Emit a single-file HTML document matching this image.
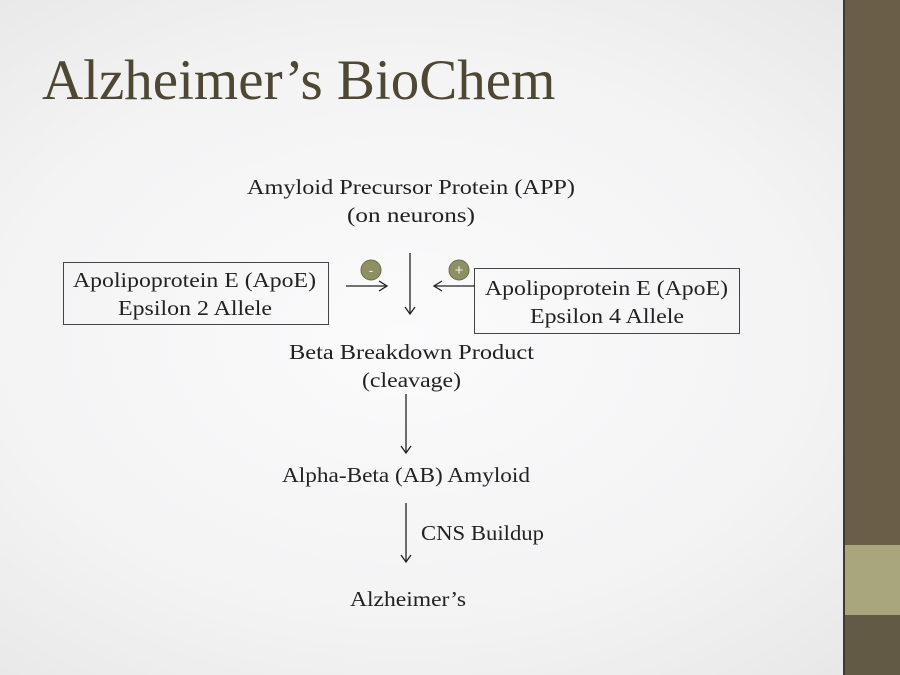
<!DOCTYPE html>
<html><head><meta charset="utf-8"><style>
html,body{margin:0;padding:0}
body{width:900px;height:675px;overflow:hidden;position:relative;background:radial-gradient(ellipse at 45% 50%,#fbfbfc 0%,#f3f3f4 60%,#e6e6e6 100%);font-family:"Liberation Serif",serif}
svg{position:absolute;left:0;top:0}
</style></head><body>
<svg width="900" height="675" viewBox="0 0 900 675">
<rect x="844" y="0" width="56" height="675" fill="#6a5e48"/>
<rect x="843" y="0" width="2" height="675" fill="#3e3a30"/>
<rect x="845" y="545" width="55" height="70" fill="#a9a57c"/>
<rect x="845" y="615" width="55" height="60" fill="#635a46"/>
<text x="42" y="99" font-size="57" fill="#4d4734" font-family="Liberation Serif,serif">Alzheimer’s BioChem</text>
<g font-size="21" fill="#222" font-family="Liberation Serif,serif" lengthAdjust="spacingAndGlyphs">
<text x="247" y="194" textLength="328" lengthAdjust="spacingAndGlyphs">Amyloid Precursor Protein (APP)</text>
<text x="347" y="222" textLength="128" lengthAdjust="spacingAndGlyphs">(on neurons)</text>
<text x="73" y="287" textLength="243" lengthAdjust="spacingAndGlyphs">Apolipoprotein E (ApoE)</text>
<text x="118" y="315" textLength="154" lengthAdjust="spacingAndGlyphs">Epsilon 2 Allele</text>
<text x="485" y="295" textLength="243" lengthAdjust="spacingAndGlyphs">Apolipoprotein E (ApoE)</text>
<text x="530" y="323" textLength="154" lengthAdjust="spacingAndGlyphs">Epsilon 4 Allele</text>
<text x="289" y="359" textLength="245" lengthAdjust="spacingAndGlyphs">Beta Breakdown Product</text>
<text x="362" y="387" textLength="99" lengthAdjust="spacingAndGlyphs">(cleavage)</text>
<text x="282" y="482" textLength="248" lengthAdjust="spacingAndGlyphs">Alpha-Beta (AB) Amyloid</text>
<text x="421" y="540" textLength="123" lengthAdjust="spacingAndGlyphs">CNS Buildup</text>
<text x="350" y="606" textLength="116" lengthAdjust="spacingAndGlyphs">Alzheimer’s</text>
</g>
<rect x="63.5" y="262.5" width="265" height="62" fill="none" stroke="#444" stroke-width="1"/>
<rect x="474.5" y="268.5" width="265" height="65" fill="none" stroke="#444" stroke-width="1"/>
<g stroke="#222" stroke-width="1.3" fill="none">
<line x1="410" y1="253" x2="410" y2="314"/><polyline points="405,307 410,314 415,307"/>
<line x1="346" y1="286" x2="386" y2="286"/><polyline points="379,281 387,286 379,291"/>
<line x1="475" y1="286" x2="435" y2="286"/><polyline points="442,281 434,286 442,291"/>
<line x1="406" y1="394" x2="406" y2="453"/><polyline points="401,446 406,453 411,446"/>
<line x1="406" y1="503" x2="406" y2="562"/><polyline points="401,555 406,562 411,555"/>
</g>
<circle cx="371" cy="270" r="10" fill="#8e8f64" stroke="#6d6e4b"/>
<text x="371" y="275" font-size="14" fill="#e8e8d8" text-anchor="middle" font-family="Liberation Sans,sans-serif">-</text>
<circle cx="459" cy="270" r="10" fill="#8e8f64" stroke="#6d6e4b"/>
<text x="459" y="275" font-size="15" fill="#f0f0e0" text-anchor="middle" font-family="Liberation Sans,sans-serif">+</text>
</svg>
</body></html>
